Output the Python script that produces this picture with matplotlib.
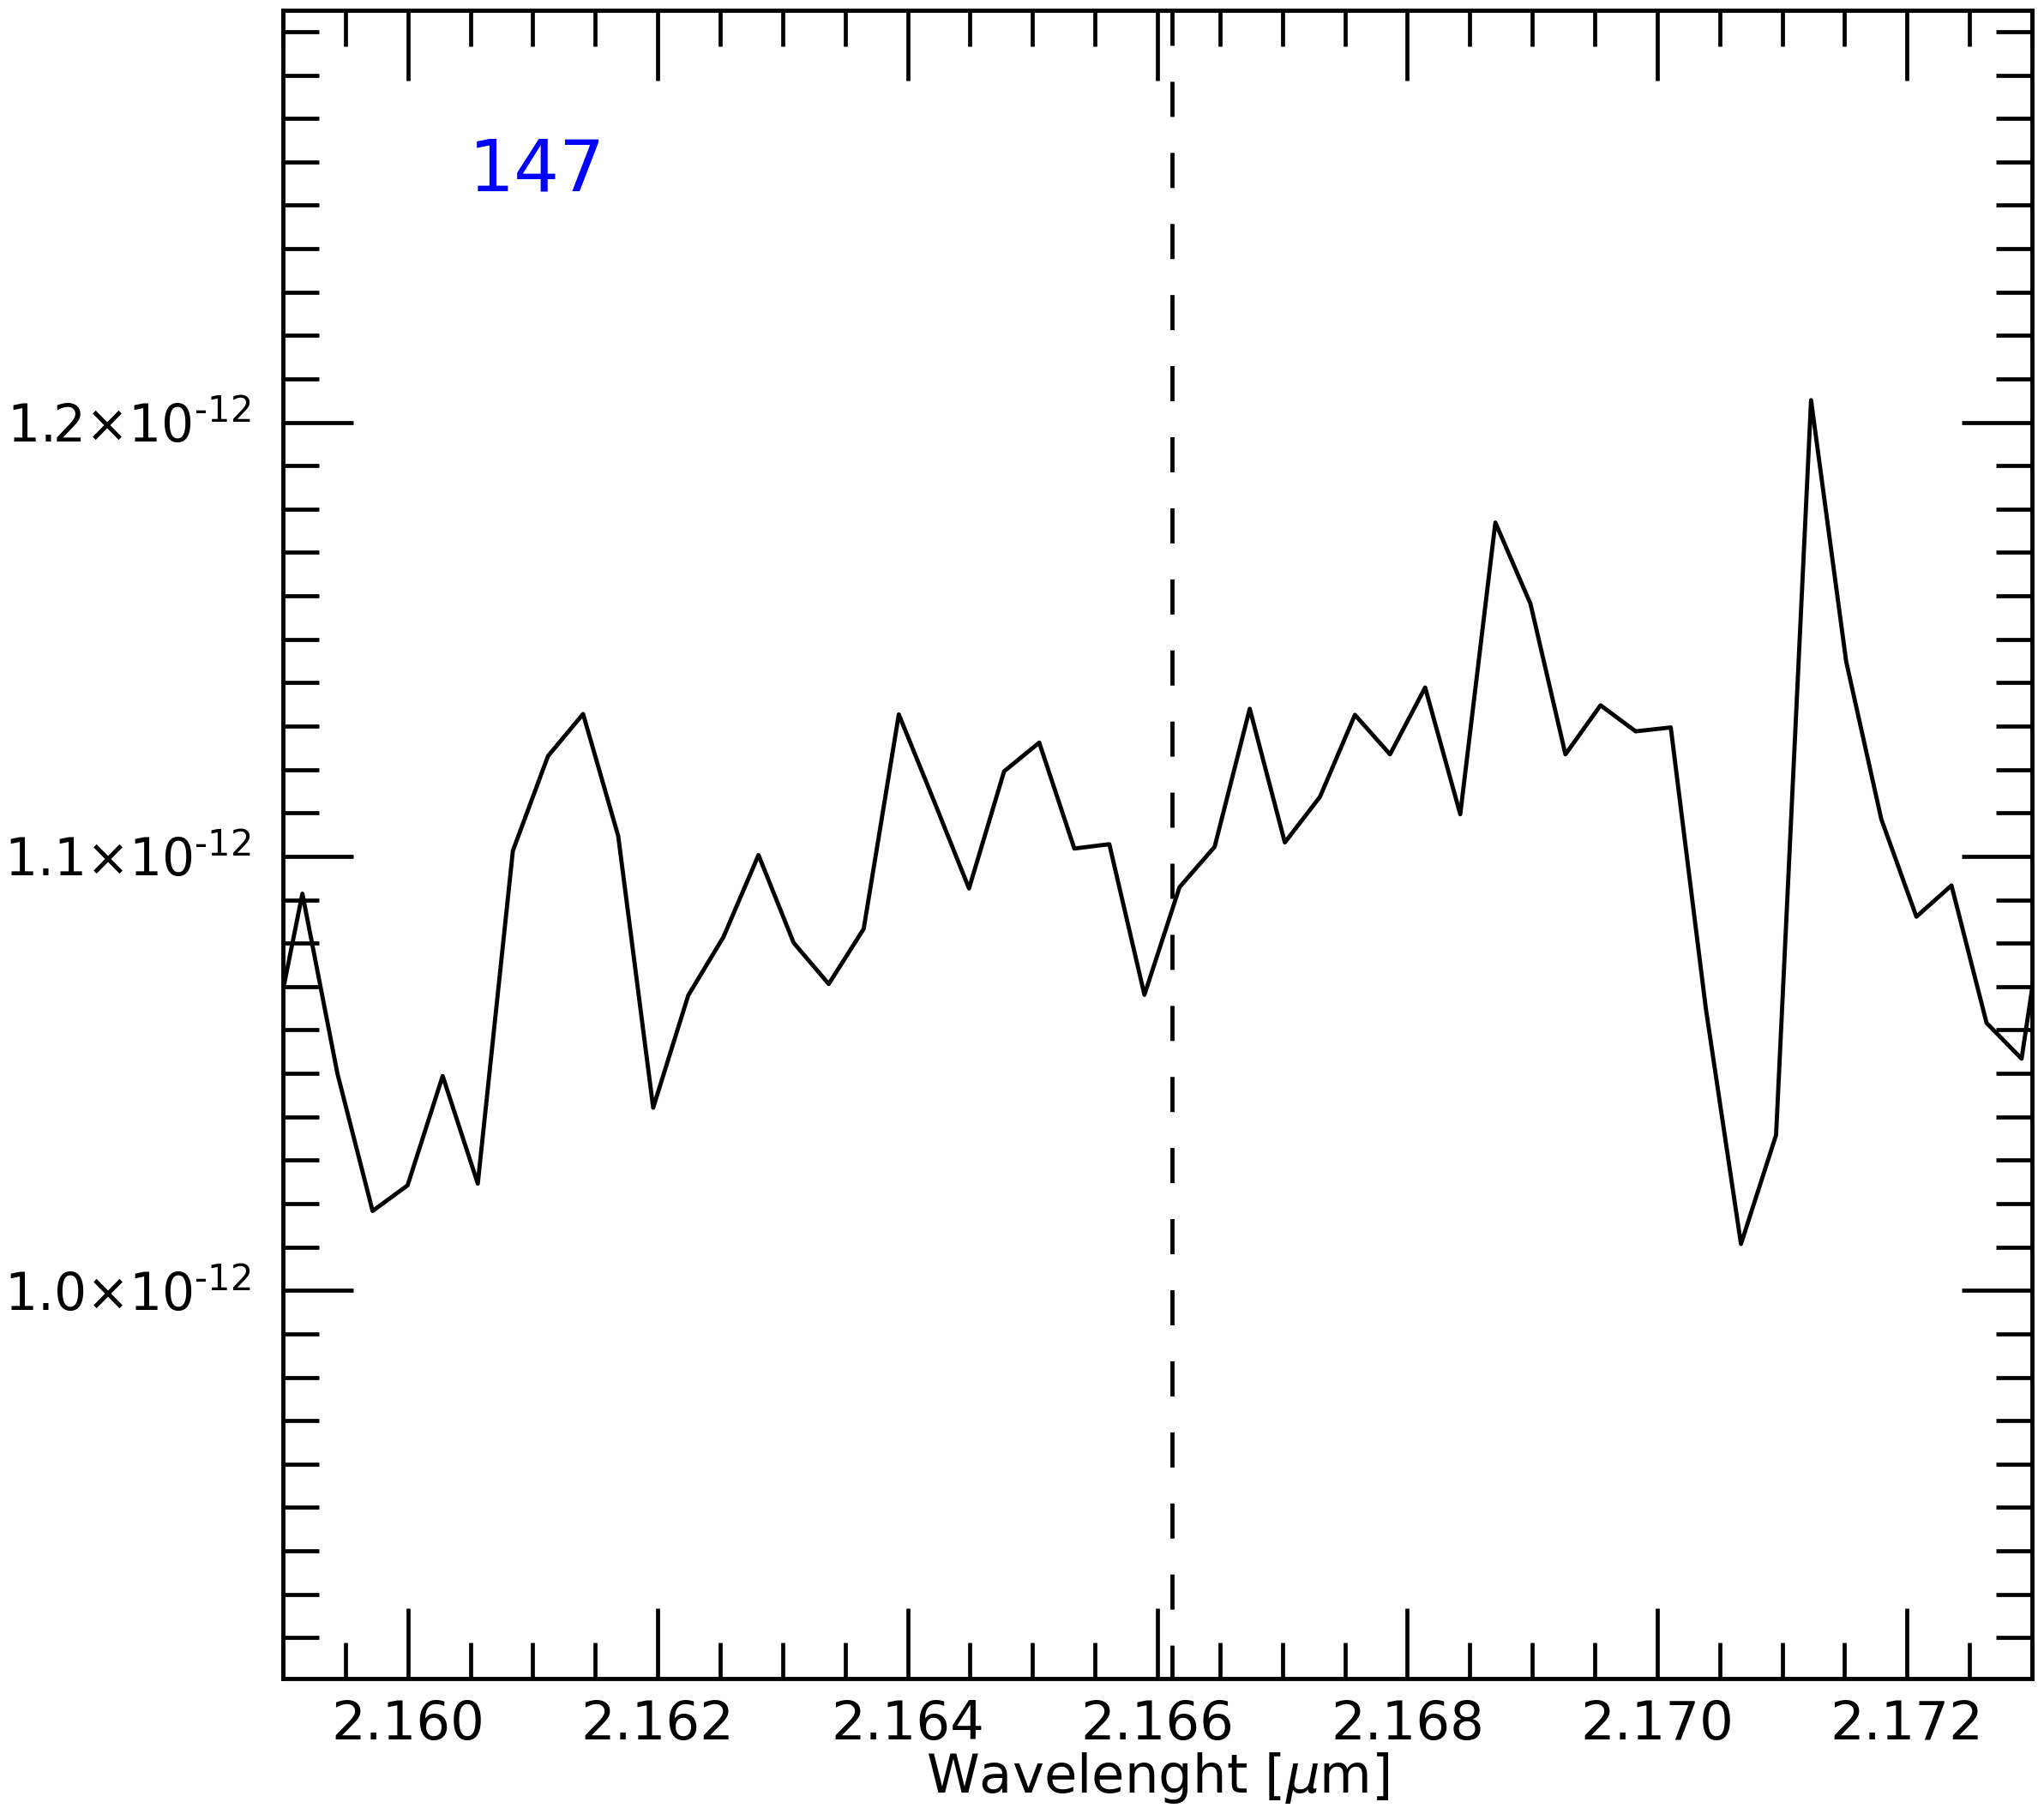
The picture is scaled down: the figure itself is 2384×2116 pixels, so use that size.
import numpy as np
import matplotlib
matplotlib.use("Agg")
import matplotlib.pyplot as plt
from matplotlib.ticker import FixedLocator, MultipleLocator

# wavelength grid [micron]
wave = [2.158875, 2.159156, 2.159437, 2.159718, 2.159998, 2.160279, 2.160560,
        2.160841, 2.161122, 2.161403, 2.161684, 2.161964, 2.162245, 2.162526,
        2.162807, 2.163088, 2.163369, 2.163649, 2.163930, 2.164211, 2.164492,
        2.164773, 2.165054, 2.165335, 2.165615, 2.165896, 2.166177, 2.166458,
        2.166739, 2.167020, 2.167301, 2.167581, 2.167862, 2.168143, 2.168424,
        2.168705, 2.168986, 2.169266, 2.169547, 2.169828, 2.170109, 2.170390,
        2.170671, 2.170952, 2.171232, 2.171513, 2.171794, 2.172075, 2.172356,
        2.172637, 2.172917, 2.173198]

# flux in units of 1e-12
flux = [1.0512, 1.0914, 1.0499, 1.0183, 1.0242, 1.0494, 1.0246, 1.1013,
        1.1231, 1.1328, 1.1047, 1.0421, 1.0680, 1.0814, 1.1003, 1.0801,
        1.0706, 1.0833, 1.1327, 1.1128, 1.0926, 1.1196, 1.1262, 1.1018,
        1.1028, 1.0681, 1.0929, 1.1022, 1.1340, 1.1032, 1.1137, 1.1326,
        1.1235, 1.1389, 1.1097, 1.1769, 1.1582, 1.1235, 1.1348, 1.1288,
        1.1297, 1.0649, 1.0107, 1.0358, 1.2051, 1.1449, 1.1086, 1.0861,
        1.0933, 1.0616, 1.0534, 1.1070]

line_wave = 2.16612  # Br gamma
label = "147"

xticks = [2.160, 2.162, 2.164, 2.166, 2.168, 2.170, 2.172]
xticklabels = ['2.160', '2.162', '2.164', '2.166', '2.168', '2.170', '2.172']
yticks = [1.0, 1.1, 1.2]
yticklabels = [r'$1.0{\times}10^{\text{-}12}$', r'$1.1{\times}10^{\text{-}12}$',
               r'$1.2{\times}10^{\text{-}12}$']

xlim = (2.159, 2.173)
ylim = (0.9106e-12, 1.2949e-12)


def main():
    plt.rcParams['font.family'] = 'DejaVu Sans'
    plt.rcParams['mathtext.fontset'] = 'dejavusans'
    plt.rcParams['lines.scale_dashes'] = False

    fig = plt.figure(figsize=(23.84, 21.16), dpi=100)
    ax = fig.add_axes([0.1384, 0.0747, 0.8557, 0.9196])

    y = np.array(flux) * 1e-12
    ax.plot(wave, y, color='black', lw=3.5, zorder=3)
    ax.plot([line_wave, line_wave], [ylim[1], ylim[0]], color='black',
            lw=3.5, dashes=(29.5, 30.2), zorder=2)

    ax.set_xlim(*xlim)
    ax.set_ylim(*ylim)

    ax.xaxis.set_major_locator(FixedLocator(xticks))
    ax.set_xticklabels(xticklabels)
    ax.xaxis.set_minor_locator(MultipleLocator(0.0005))
    ax.yaxis.set_major_locator(FixedLocator([v * 1e-12 for v in yticks]))
    ax.set_yticklabels(yticklabels)
    ax.yaxis.set_minor_locator(MultipleLocator(0.01e-12))

    ax.tick_params(which='both', direction='in', top=True, right=True,
                   width=3.4)
    ax.tick_params(which='major', length=59)
    ax.tick_params(which='minor', length=30)
    ax.tick_params(axis='x', which='major', pad=17, labelsize=45)
    ax.tick_params(axis='y', which='major', pad=27, labelsize=43)
    for s in ax.spines.values():
        s.set_linewidth(3.5)

    ax.set_xlabel(r'Wavelenght [$\mu$m]', fontsize=45, labelpad=0)
    ax.text(0.1064, 0.892, label, color='blue', fontsize=60,
            transform=ax.transAxes, ha='left', va='baseline')

    fig.savefig('out.png', dpi=100)


if __name__ == "__main__":
    main()
